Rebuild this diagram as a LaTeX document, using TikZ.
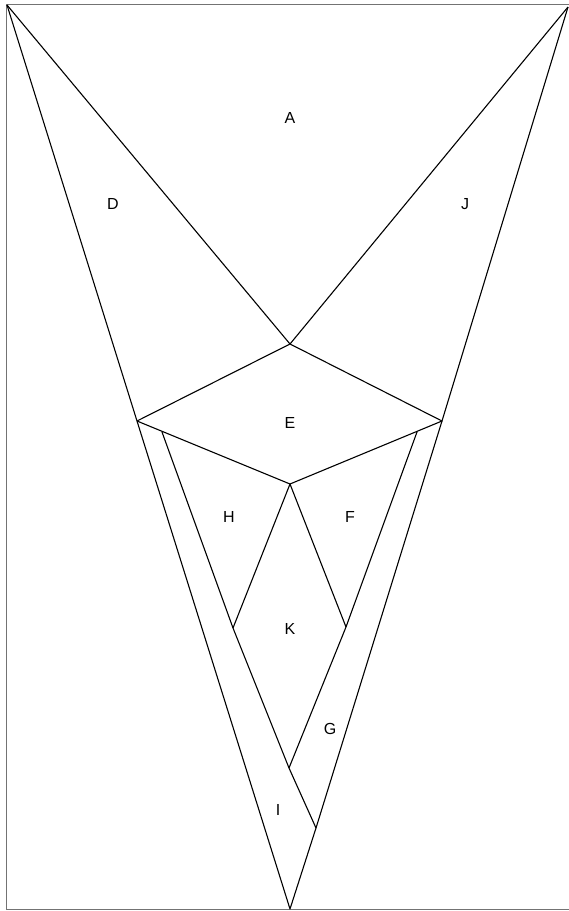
\documentclass[tikz,border=0pt]{standalone}
\usepackage{fontspec}
\setmainfont{Liberation Sans}
\begin{document}
\begin{tikzpicture}[x=1pt,y=-1pt,
  edge/.style={draw=black,line width=1.1pt,line join=round},
  frame/.style={draw=black!55,line width=1.3pt},
  lab/.style={font=\fontsize{16}{19}\selectfont,inner sep=0pt}]
\useasboundingbox (0,0) rectangle (569,911);
% frame
\draw[frame] (580,4.5) -- (6.5,4.5) -- (6.5,909.5) -- (580,909.5);
% vertices
\coordinate (TL) at (7,5);
\coordinate (TR) at (568,7);
\coordinate (C1) at (290,344);
\coordinate (L) at (137,421);
\coordinate (R) at (442,421);
\coordinate (C2) at (290,484);
\coordinate (B) at (290,909);
\coordinate (P1) at (162,432);
\coordinate (P2) at (417,432);
\coordinate (H1) at (233,628);
\coordinate (F1) at (346,627);
\coordinate (Q1) at (316,828);
\coordinate (Q2) at (289,768);
% edges
\draw[edge] (TL) -- (C1) -- (TR);
\draw[edge] (TL) -- (L) -- (B) -- (Q1) -- (R) -- (TR);
\draw[edge] (L) -- (C1) -- (R) -- (C2) -- (L);
\draw[edge] (P1) -- (H1) -- (Q2) -- (Q1);
\draw[edge] (P2) -- (F1) -- (Q2);
\draw[edge] (H1) -- (C2) -- (F1);
% labels
\node[lab] (lA) at (290,118) {A};
\node[lab] (lD) at (113,204) {D};
\node[lab] (lJ) at (465,204) {J};
\node[lab] (lE) at (290,423) {E};
\node[lab] (lH) at (229,517) {H};
\node[lab] (lF) at (350,517) {F};
\node[lab] (lK) at (290,629) {K};
\node[lab] (lG) at (330,729) {G};
\node[lab] (lI) at (278,810) {I};
\end{tikzpicture}
\end{document}
